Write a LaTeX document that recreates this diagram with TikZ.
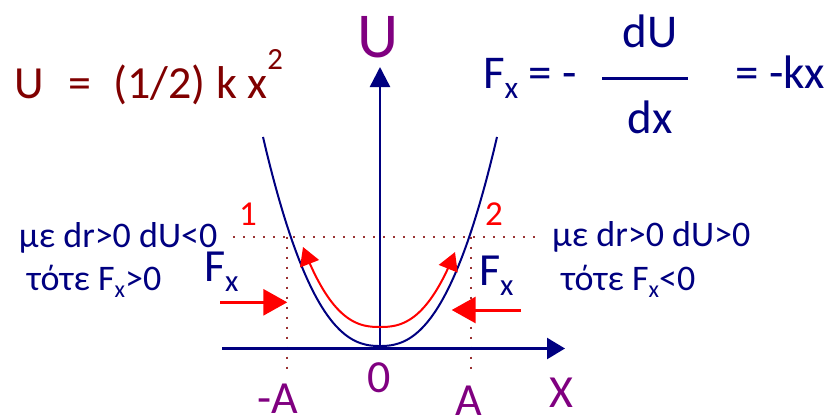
\documentclass[tikz,border=0pt]{standalone}
\usepackage{fontspec}
\setmainfont{Carlito}
\usetikzlibrary{arrows.meta}
\definecolor{navy}{HTML}{000080}
\definecolor{maroonc}{HTML}{800000}
\definecolor{purp}{HTML}{800080}
\definecolor{dotred}{HTML}{993333}
\newcommand\sbx[1]{\raisebox{-.22em}{\scalebox{.67}{#1}}}
\newcommand\spx[1]{\raisebox{.62em}{\scalebox{.67}{#1}}}
\begin{document}
\begin{tikzpicture}[x=1pt,y=-1pt,
  txt/.style={inner sep=0pt, outer sep=0pt, anchor=base west},
  big/.style={font=\fontsize{47}{52}\selectfont},
  lab/.style={font=\fontsize{46}{52}\selectfont},
  mid/.style={font=\fontsize{36}{42}\selectfont},
  axisline/.style={navy, line width=2.4pt},
  curve/.style={navy, line width=2pt},
  redcurve/.style={red, line width=2pt},
  fxarrow/.style={red, line width=3pt, -{Triangle[length=24pt,width=26pt]}},
  dotline/.style={dotred, line width=2.2pt, dash pattern=on 2pt off 8pt}]
\useasboundingbox (0,0) rectangle (830,418);

% coordinates
\coordinate (O) at (380,346);
\coordinate (Utip) at (380,67);
\coordinate (Xs) at (222,348.5);
\coordinate (Xe) at (565,348.5);
\coordinate (H1) at (233,236.7);
\coordinate (H2) at (535,236.7);
\coordinate (P1) at (287,236.7);
\coordinate (P1b) at (287,375);
\coordinate (P2) at (471,236.7);
\coordinate (P2b) at (471,371);
\coordinate (L1) at (220,302.3);
\coordinate (L2) at (287.3,302.3);
\coordinate (R1) at (521,310);
\coordinate (R2) at (451.7,310);

% dotted guide lines
\draw[dotline] (H1) -- (H2);
\draw[dotline] (P1) -- (P1b);
\draw[dotline] (P2) -- (P2b);

% axes
\draw[axisline, -{Triangle[length=20pt,width=20pt]}] (O) -- (Utip);
\draw[axisline, -{Triangle[length=18pt,width=21pt]}] (Xs) -- (Xe);

% potential curve
\draw[curve] plot[domain=-117:117, samples=80, smooth]
  ({380+\x}, {346-209*pow(abs(\x)/117+0.0001,2.4)});

% red motion curve
\draw[redcurve, {Triangle[length=18pt,width=20pt]}-{Triangle[length=18pt,width=20pt]}]
  plot[domain=-77:75, samples=60, smooth]
  ({380+\x}, {327-80*pow(abs(\x)/77+0.0001,2.5)});

% force arrows
\draw[fxarrow] (L1) -- (L2);
\draw[fxarrow] (R1) -- (R2);

% fraction bar
\coordinate (FB1) at (602,78);
\coordinate (FB2) at (688,78);
\draw[navy, line width=3pt] (FB1) -- (FB2);

% texts
\node[txt, lab, maroonc] (ueq) at (14,98) {U\hspace{25pt}=\hspace{22pt}(1/2) k x\spx{2}};
\node[inner sep=0pt, anchor=base, purp, font=\fontsize{64}{70}\selectfont] (ulab) at (378,57) {U};
\node[txt, big, navy] (feq) at (483,88) {F\sbx{x} = -};
\node[inner sep=0pt, anchor=base, big, navy] (du) at (650,47) {dU};
\node[inner sep=0pt, anchor=base, big, navy] (dx) at (650,133) {dx};
\node[txt, big, navy] (kx) at (735,88) {= -kx};

\node[txt, mid, navy] (l1) at (19,247) {με dr>0 dU<0};
\node[txt, mid, navy] (l2) at (27,290) {τότε F\sbx{x}>0};
\node[txt, mid, navy] (r1) at (552,246) {με dr>0 dU>0};
\node[txt, mid, navy] (r2) at (561,290) {τότε F\sbx{x}<0};

\node[txt, lab, navy] (fl) at (204,281) {F\sbx{x}};
\node[txt, lab, navy] (fr) at (479,285) {F\sbx{x}};

\node[txt, red, font=\fontsize{35}{40}\selectfont] (n1) at (239,225) {1};
\node[txt, red, font=\fontsize{35}{40}\selectfont] (n2) at (485,225) {2};

\node[txt, lab, purp] (ma) at (257,413) {-A};
\node[txt, lab, purp] (zero) at (367,392) {0};
\node[txt, lab, purp] (pa) at (455,415) {A};
\node[txt, lab, purp] (xl) at (549,407) {X};
\end{tikzpicture}
\end{document}
